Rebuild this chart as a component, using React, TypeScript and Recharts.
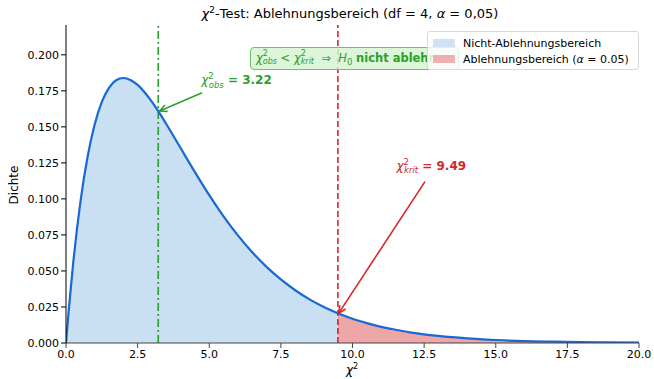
import React from "react";
import {
  ComposedChart,
  Area,
  Line,
  XAxis,
  YAxis,
  ReferenceLine,
  ReferenceDot,
} from "recharts";

const FONT = "DejaVu Sans, Verdana, sans-serif";

// chi-square density, df = 4
const X_VALUES = [
  0, 0.1, 0.25, 0.5, 0.75, 1, 1.25, 1.5, 1.75, 2, 2.25, 2.5, 3, 3.22, 3.5, 4,
  4.5, 5, 5.5, 6, 6.5, 7, 7.5, 8, 8.5, 9, 9.49, 10, 10.5, 11, 11.5, 12, 13, 14,
  15, 16, 17, 18, 19, 20,
];
const DENSITY = [
  0, 0.0238, 0.0552, 0.0974, 0.1289, 0.1516, 0.1673, 0.1771, 0.1824, 0.1839,
  0.1826, 0.1791, 0.1673, 0.1609, 0.152, 0.1353, 0.1186, 0.1026, 0.0879,
  0.0747, 0.063, 0.0528, 0.0441, 0.0366, 0.0303, 0.025, 0.0206, 0.0168, 0.0138,
  0.0112, 0.0092, 0.0074, 0.0049, 0.0032, 0.0021, 0.0013, 0.0009, 0.0006,
  0.0004, 0.0002,
];

const CHI_OBS = 3.22;
const CHI_CRIT = 9.49;

const X_TICKS = [0, 2.5, 5, 7.5, 10, 12.5, 15, 17.5, 20];
const Y_TICKS = [0, 0.025, 0.05, 0.075, 0.1, 0.125, 0.15, 0.175, 0.2];

const data = X_VALUES.map((x, i) => ({
  x,
  y: DENSITY[i],
  accept: x <= CHI_CRIT ? DENSITY[i] : null,
  reject: x >= CHI_CRIT ? DENSITY[i] : null,
}));

const Arrow = (color: string) => (props: any) => {
  const { x1, y1, x2, y2 } = props;
  const a = Math.atan2(y2 - y1, x2 - x1);
  const h = 8;
  const s = 0.45;
  return (
    <g stroke={color} strokeWidth={1.6} fill="none">
      <line x1={x1} y1={y1} x2={x2} y2={y2} />
      <polyline
        points={`${x2 - h * Math.cos(a - s)},${y2 - h * Math.sin(a - s)} ${x2},${y2} ${x2 - h * Math.cos(a + s)},${y2 - h * Math.sin(a + s)}`}
      />
    </g>
  );
};

const ChiLabel = (color: string, sub: string, value: string) => (props: any) => {
  const { cx, cy } = props;
  return (
    <text
      x={cx}
      y={cy}
      textAnchor="middle"
      fill={color}
      fontFamily={FONT}
      fontSize={12}
    >
      <tspan fontStyle="italic">χ</tspan>
      <tspan dy={-5} fontSize={8.5}>2</tspan>
      <tspan dx={-5} dy={8.5} fontSize={8.5} fontStyle="italic">{sub}</tspan>
      <tspan dy={-3.5} fontWeight="bold">{" = " + value}</tspan>
    </text>
  );
};

const stack = {
  display: "inline-flex",
  flexDirection: "column" as const,
  verticalAlign: "middle",
  fontSize: 8,
  lineHeight: "8px",
  fontStyle: "italic",
};

export default function App() {
  return (
    <div
      style={{
        position: "absolute",
        left: 0,
        top: 0,
        width: 654,
        height: 379,
        background: "#fff",
        fontFamily: FONT,
      }}
    >
      <div
        style={{
          position: "absolute",
          left: 0,
          width: 700,
          top: 5,
          textAlign: "center",
          fontSize: 13,
          color: "#000",
          whiteSpace: "nowrap",
        }}
      >
        <i>χ</i>
        <sup style={{ fontSize: 9 }}>2</sup>-Test: Ablehnungsbereich (df = 4, <i>α</i> = 0,05)
      </div>
      <ComposedChart
        width={654}
        height={379}
        data={data}
        margin={{ top: 25, right: 15, bottom: 0, left: 0 }}
      >
        <XAxis
          dataKey="x"
          type="number"
          domain={[0, 20]}
          ticks={X_TICKS}
          tickFormatter={(v: number) => v.toFixed(1)}
          height={36}
          stroke="#444"
          tickSize={5}
          tick={{ fill: "#000", fontSize: 11, fontFamily: FONT }}
          allowDataOverflow
        />
        <YAxis
          type="number"
          domain={[0, 0.2207]}
          ticks={Y_TICKS}
          tickFormatter={(v: number) => v.toFixed(3)}
          width={66}
          stroke="#000"
          tickSize={5}
          tick={{ fill: "#000", fontSize: 11, fontFamily: FONT }}
          allowDataOverflow
        />
        <Area
          dataKey="accept"
          type="monotone"
          stroke="none"
          fill="#c9dff2"
          fillOpacity={1}
          isAnimationActive={false}
        />
        <Area
          dataKey="reject"
          type="monotone"
          stroke="none"
          fill="#eea7a7"
          fillOpacity={1}
          isAnimationActive={false}
        />
        <ReferenceLine
          x={CHI_OBS}
          stroke="#2ca02c"
          strokeWidth={1.6}
          strokeDasharray="8 3 2 3"
        />
        <ReferenceLine
          x={CHI_CRIT}
          stroke="#d62728"
          strokeWidth={1.6}
          strokeDasharray="6 3"
        />
        <Line
          dataKey="y"
          type="monotone"
          stroke="#1769d3"
          strokeWidth={2.2}
          dot={false}
          isAnimationActive={false}
        />
        <ReferenceLine
          segment={[
            { x: 4.75, y: 0.1737 },
            { x: CHI_OBS + 0.05, y: 0.161 },
          ]}
          shape={Arrow("#2ca02c")}
          ifOverflow="visible"
        />
        <ReferenceLine
          segment={[
            { x: 12.53, y: 0.112 },
            { x: CHI_CRIT + 0.03, y: 0.0207 },
          ]}
          shape={Arrow("#d62728")}
          ifOverflow="visible"
        />
        <ReferenceDot
          x={5.95}
          y={0.1795}
          shape={ChiLabel("#2ca02c", "obs", "3.22")}
          ifOverflow="visible"
        />
        <ReferenceDot
          x={12.75}
          y={0.1203}
          shape={ChiLabel("#d62728", "krit", "9.49")}
          ifOverflow="visible"
        />
      </ComposedChart>
      <div
        style={{
          position: "absolute",
          left: 2,
          top: 185,
          transform: "translate(-50%, -50%) rotate(-90deg)",
          transformOrigin: "center",
          marginLeft: 12,
          fontSize: 12,
          color: "#000",
        }}
      >
        Dichte
      </div>
      <div
        style={{
          position: "absolute",
          left: 0,
          width: 704,
          top: 362,
          textAlign: "center",
          fontSize: 12,
          color: "#000",
        }}
      >
        <i>χ</i>
        <sup style={{ fontSize: 8 }}>2</sup>
      </div>
      <div
        style={{
          position: "absolute",
          left: 250,
          top: 47,
          height: 23,
          padding: "0 5px",
          boxSizing: "border-box",
          display: "flex",
          alignItems: "center",
          whiteSpace: "pre",
          background: "rgba(215,243,210,0.85)",
          border: "1px solid #6cc267",
          borderRadius: 4,
          color: "#2ca02c",
          fontSize: 11.5,
        }}
      >
        <span>
          <i>χ</i>
          <span style={stack}>
            <span style={{ fontStyle: "normal" }}>2</span>
            <span>obs</span>
          </span>
          {" < "}
          <i>χ</i>
          <span style={stack}>
            <span style={{ fontStyle: "normal" }}>2</span>
            <span>krit</span>
          </span>
          {"  ⇒  "}
          <i>H</i>
          <sub style={{ fontSize: 8.5 }}>0</sub>{" "}
          <b>nicht ablehnen</b>
        </span>
      </div>
      <div
        style={{
          position: "absolute",
          left: 427,
          top: 31,
          width: 212,
          height: 39,
          boxSizing: "border-box",
          background: "rgba(255,255,255,0.8)",
          border: "1px solid #d8d8d8",
          borderRadius: 3,
          fontSize: 11,
          color: "#000",
          padding: "3px 0 0 5px",
        }}
      >
        {[
          { color: "#c9dff2", label: <>Nicht-Ablehnungsbereich</> },
          {
            color: "#eea7a7",
            label: (
              <>
                Ablehnungsbereich (<i>α</i> = 0.05)
              </>
            ),
          },
        ].map((e, i) => (
          <div
            key={i}
            style={{ display: "flex", alignItems: "center", height: 16 }}
          >
            <div
              style={{
                width: 22,
                height: 8,
                background: e.color,
                opacity: 0.9,
                marginRight: 8,
              }}
            />
            <span>{e.label}</span>
          </div>
        ))}
      </div>
    </div>
  );
}
